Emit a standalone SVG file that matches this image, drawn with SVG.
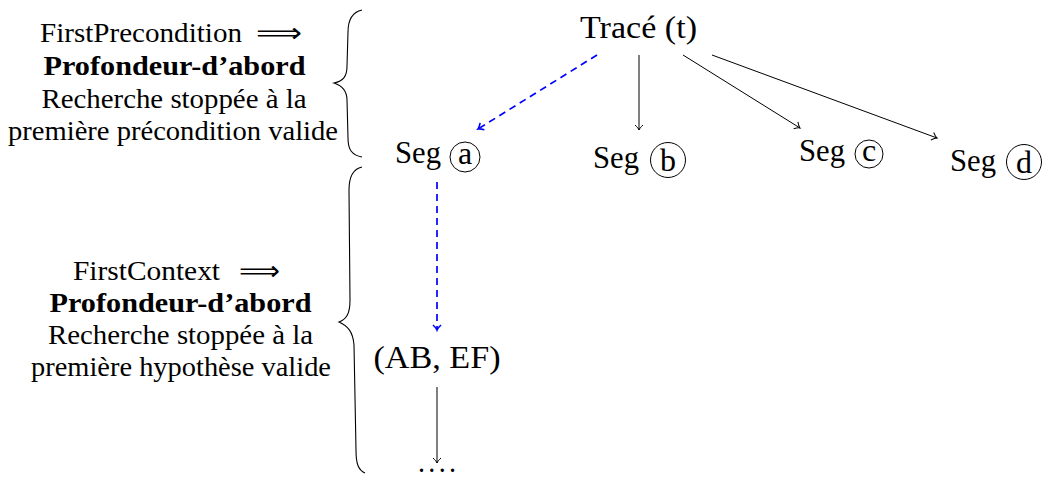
<svg xmlns="http://www.w3.org/2000/svg" width="1043" height="477" viewBox="0 0 1043 477" font-family="'Liberation Serif', 'DejaVu Serif', serif">
<style>
  text { font-family: "Liberation Serif", "Times New Roman", "DejaVu Serif", serif; fill: #000; }
  .node { font-size: 32px; }
  .side { font-size: 27px; }
  .bold { font-weight: bold; }
  text.arr { font-family: "DejaVu Sans", "DejaVu Serif", sans-serif; font-size: 27px; }
  .circ { fill: none; stroke: #000; stroke-width: 1; }
  .edge { fill: none; stroke: #000; stroke-width: 1; }
  .dash { fill: none; stroke: #0000ff; stroke-width: 1.7; stroke-dasharray: 7 5; }
  .brace { fill: none; stroke: #000; stroke-width: 1.1; }
</style>
<defs>
  <marker id="ab" viewBox="-7 -6 9 12" refX="0" refY="0" markerWidth="9" markerHeight="12" markerUnits="userSpaceOnUse" orient="auto">
    <path d="M-5,-4 C-3,-1.8 -1.2,-0.4 0,0 C-1.2,0.4 -3,1.8 -5,4" fill="none" stroke="#000" stroke-width="1"/>
  </marker>
  <marker id="au" viewBox="-7 -6 9 12" refX="0" refY="0" markerWidth="9" markerHeight="12" markerUnits="userSpaceOnUse" orient="auto">
    <path d="M-5,-4 C-3,-1.8 -1.2,-0.4 0,0 C-1.2,0.4 -3,1.8 -5,4" fill="none" stroke="#0000ff" stroke-width="1.6" stroke-dasharray="none"/>
  </marker>
</defs>
<rect width="1043" height="477" fill="#fff"/>

<g id="label-precondition">
  <text class="side" x="40" y="42" textLength="202" lengthAdjust="spacingAndGlyphs">FirstPrecondition</text>
  <text class="arr" x="256" y="42" textLength="46" lengthAdjust="spacingAndGlyphs">⟹</text>
  <text class="side bold" x="174.5" y="75" text-anchor="middle" textLength="262" lengthAdjust="spacingAndGlyphs">Profondeur-d’abord</text>
  <text class="side" x="174" y="108" text-anchor="middle" textLength="265" lengthAdjust="spacingAndGlyphs">Recherche stoppée à la</text>
  <text class="side" x="173" y="140" text-anchor="middle" textLength="330" lengthAdjust="spacingAndGlyphs">première précondition valide</text>
  <path class="brace" d="M362,10 C353,12 348,19 348,32 L347,66 C347,77 343,81 334,83 C343,86 347,91 347,100 L348,138 C348,150 352,155 362,157"/>
</g>

<g id="label-context">
  <text class="side" x="73" y="280" textLength="147" lengthAdjust="spacingAndGlyphs">FirstContext</text>
  <text class="arr" x="239" y="280" textLength="41" lengthAdjust="spacingAndGlyphs">⟹</text>
  <text class="side bold" x="180.5" y="312" text-anchor="middle" textLength="262" lengthAdjust="spacingAndGlyphs">Profondeur-d’abord</text>
  <text class="side" x="180.5" y="344" text-anchor="middle" textLength="265" lengthAdjust="spacingAndGlyphs">Recherche stoppée à la</text>
  <text class="side" x="181" y="376" text-anchor="middle" textLength="300" lengthAdjust="spacingAndGlyphs">première hypothèse valide</text>
  <path class="brace" d="M362,167 C353,169 349,176 349,190 L350,300 C350,313 347,319 339,322 C348,326 353,332 354,345 L356,450 C356,463 358,470 365,473"/>
</g>

<g id="node-trace">
  <text class="node" x="638.5" y="38" text-anchor="middle" textLength="117" lengthAdjust="spacingAndGlyphs">Tracé (t)</text>
</g>

<g id="node-seg-a">
  <text class="node" x="395" y="163" textLength="46" lengthAdjust="spacingAndGlyphs">Seg</text>
  <circle class="circ" cx="465" cy="157" r="15"/>
  <text class="node" x="465" y="164" text-anchor="middle" font-size="34">a</text>
</g>

<g id="node-seg-b">
  <text class="node" x="593" y="168" textLength="46" lengthAdjust="spacingAndGlyphs">Seg</text>
  <circle class="circ" cx="668" cy="160" r="17.5"/>
  <text class="node" x="668" y="171" text-anchor="middle" font-size="34">b</text>
</g>

<g id="node-seg-c">
  <text class="node" x="799" y="161" textLength="46" lengthAdjust="spacingAndGlyphs">Seg</text>
  <circle class="circ" cx="869" cy="154" r="14"/>
  <text class="node" x="869" y="161" text-anchor="middle" font-size="34">c</text>
</g>

<g id="node-seg-d">
  <text class="node" x="950" y="171" textLength="46" lengthAdjust="spacingAndGlyphs">Seg</text>
  <circle class="circ" cx="1024" cy="162" r="17.5"/>
  <text class="node" x="1024" y="173" text-anchor="middle" font-size="34">d</text>
</g>

<g id="node-ab-ef">
  <text class="node" x="437" y="368" text-anchor="middle" textLength="127" lengthAdjust="spacingAndGlyphs">(AB, EF)</text>
</g>

<g id="node-dots">
  <text x="437" y="472" text-anchor="middle" font-size="20" font-weight="bold" textLength="36" lengthAdjust="spacing">....</text>
</g>

<g id="connectors">
  <line class="dash" x1="597" y1="55" x2="478" y2="129" marker-end="url(#au)"/>
  <line class="edge" x1="639" y1="55" x2="639" y2="130" marker-end="url(#ab)"/>
  <line class="edge" x1="683" y1="55" x2="800" y2="128" marker-end="url(#ab)"/>
  <line class="edge" x1="712" y1="55" x2="937" y2="138" marker-end="url(#ab)"/>
  <line class="dash" x1="437" y1="182" x2="437" y2="330" marker-end="url(#au)"/>
  <line class="edge" x1="437" y1="387" x2="437" y2="463" marker-end="url(#ab)"/>
</g>
</svg>
